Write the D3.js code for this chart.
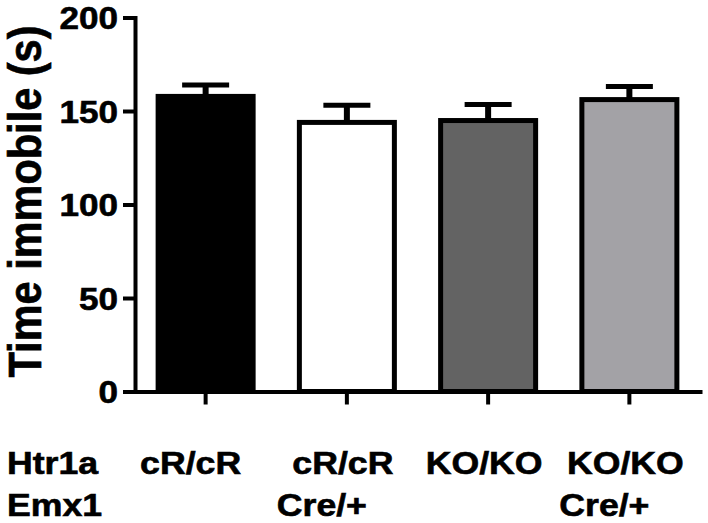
<!DOCTYPE html>
<html>
<head>
<meta charset="utf-8">
<script src="https://cdn.jsdelivr.net/npm/d3@7"></script>
<style>
  body { margin: 0; background: #fff; }
  text { font-family: "Liberation Sans", Arial, sans-serif; font-weight: bold; fill: #000; stroke: #000; stroke-width: 0.6px; }
</style>
</head>
<body>
<div id="bar"></div>
<script>
var groups = ["g1", "g2", "g3", "g4"];
var means = [157.8, 143.9, 144.9, 156.1];
var sems = [6.1, 9.2, 8.6, 7.0];
var fills = ["#000000", "#ffffff", "#636363", "#a3a2a6"];
var htr1a = ["cR/cR", "cR/cR", "KO/KO", "KO/KO"];
var emx1 = ["", "Cre/+", "", "Cre/+"];
var yTicks = [0, 50, 100, 150, 200];

var w = 708,
    h = 523;
var margin = { top: 17.5, right: 8, bottom: 131.5, left: 135 };
var stretch = 1.15; // text in the picture is a bit wider than normal

var data = groups.map(function(g, i) {
  return { group: g, mean: means[i], sem: sems[i], fill: fills[i], top: htr1a[i], bottom: emx1[i] };
});

var svg = d3.select("#bar").append("svg")
   .attr("width", w)
   .attr("height", h);

var xScale = d3.scaleBand()
   .domain(groups)
   .range([margin.left, w - margin.right])
   .paddingInner(0.292)
   .paddingOuter(0.146);
var yScale = d3.scaleLinear()
   .domain([0, 200])
   .range([h - margin.bottom, margin.top]);

// bars
svg.selectAll("rect.bars")
   .data(data)
   .enter()
   .append("rect")
   .attr("class", "bars")
   .attr("x", function(d) { return xScale(d.group) + 2.5; })
   .attr("y", function(d) { return yScale(d.mean); })
   .attr("width", xScale.bandwidth() - 5)
   .attr("height", function(d) { return yScale(0) - yScale(d.mean); })
   .attr("fill", function(d) { return d.fill; })
   .attr("stroke", "#000")
   .attr("stroke-width", 5);

// error bars (mean + SEM)
svg.selectAll("line.stem")
   .data(data)
   .enter()
   .append("line")
   .attr("class", "stem")
   .attr("x1", function(d) { return xScale(d.group) + xScale.bandwidth() / 2; })
   .attr("x2", function(d) { return xScale(d.group) + xScale.bandwidth() / 2; })
   .attr("y1", function(d) { return yScale(d.mean); })
   .attr("y2", function(d) { return yScale(d.mean + d.sem); })
   .attr("stroke", "#000")
   .attr("stroke-width", 6);
svg.selectAll("line.cap")
   .data(data)
   .enter()
   .append("line")
   .attr("class", "cap")
   .attr("x1", function(d) { return xScale(d.group) + xScale.bandwidth() / 2 - 23.5; })
   .attr("x2", function(d) { return xScale(d.group) + xScale.bandwidth() / 2 + 23.5; })
   .attr("y1", function(d) { return yScale(d.mean + d.sem); })
   .attr("y2", function(d) { return yScale(d.mean + d.sem); })
   .attr("stroke", "#000")
   .attr("stroke-width", 5);

// axes
var yAxis = d3.axisLeft(yScale)
   .tickValues(yTicks)
   .tickSize(10)
   .tickSizeOuter(0);
var xAxis = d3.axisBottom(xScale)
   .tickSize(11)
   .tickSizeOuter(0)
   .tickFormat("");

var gx = svg.append("g")
   .attr("class", "x-axis")
   .attr("transform", "translate(0," + yScale(0) + ")")
   .call(xAxis);
var gy = svg.append("g")
   .attr("class", "y-axis")
   .attr("transform", "translate(" + margin.left + ",0)")
   .call(yAxis);

svg.selectAll(".x-axis path, .x-axis line, .y-axis path, .y-axis line")
   .attr("stroke", "#000")
   .attr("stroke-width", 4)
   .attr("stroke-linecap", "square");

gy.selectAll(".tick text")
   .attr("font-size", 30.5)
   .attr("font-family", null)
   .attr("fill", null)
   .attr("x", null)
   .attr("dy", null)
   .attr("y", 11)
   .attr("transform", "translate(-17,0) scale(" + stretch + ",1)");

// y title
svg.append("text")
   .attr("text-anchor", "middle")
   .attr("font-size", 41.5)
   .attr("transform", "translate(41,201.5) rotate(-90) scale(1,1.12)")
   .text("Time immobile (s)");

// genotype rows
svg.append("text")
   .attr("font-size", 31)
   .attr("transform", "translate(7,474) scale(" + stretch + ",1)")
   .text("Htr1a");
svg.append("text")
   .attr("font-size", 31)
   .attr("transform", "translate(7,516) scale(" + stretch + ",1)")
   .text("Emx1");

svg.selectAll("text.row1")
   .data(data)
   .enter()
   .append("text")
   .attr("class", "row1")
   .attr("text-anchor", "middle")
   .attr("font-size", 31)
   .attr("transform", function(d, i) {
     var shift = i === 0 ? -15 : -4;
     return "translate(" + (xScale(d.group) + xScale.bandwidth() / 2 + shift) + ",474) scale(" + stretch + ",1)";
   })
   .text(function(d) { return d.top; });
svg.selectAll("text.row2")
   .data(data)
   .enter()
   .append("text")
   .attr("class", "row2")
   .attr("text-anchor", "middle")
   .attr("font-size", 31)
   .attr("transform", function(d) {
     return "translate(" + (xScale(d.group) + xScale.bandwidth() / 2 - 25) + ",516) scale(" + stretch + ",1)";
   })
   .text(function(d) { return d.bottom; });
</script>
</body>
</html>
